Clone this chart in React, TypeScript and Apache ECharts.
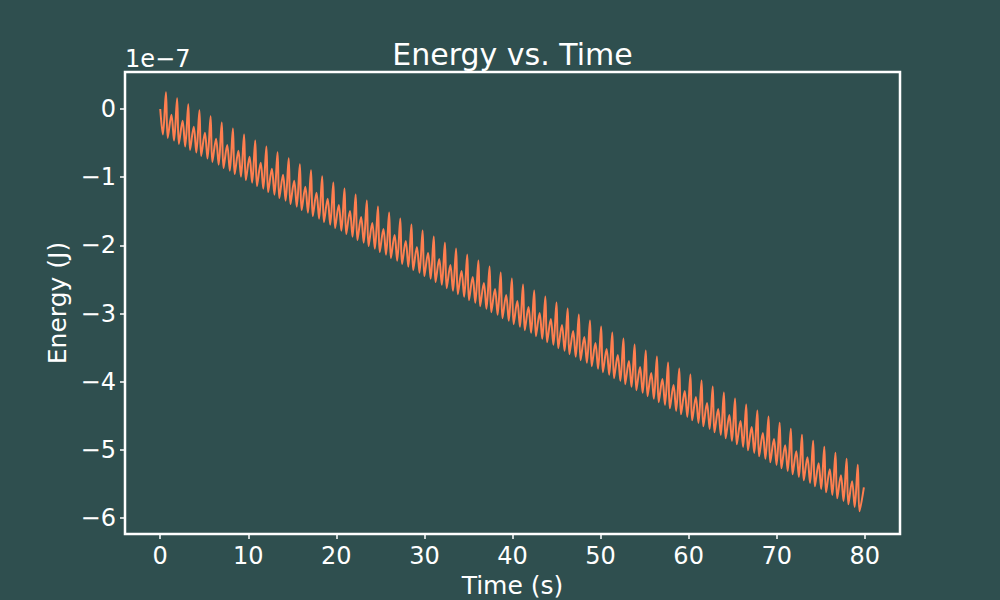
import React, { useEffect, useRef } from "react";
import * as echarts from "echarts";

// Time in seconds
const time: number[] = [
  0,
  0.300, 0.650, 0.850, 1.270,
  1.567, 1.917, 2.117, 2.537,
  2.834, 3.184, 3.384, 3.804,
  4.101, 4.451, 4.651, 5.071,
  5.368, 5.718, 5.918, 6.338,
  6.635, 6.985, 7.185, 7.605,
  7.902, 8.252, 8.452, 8.872,
  9.169, 9.519, 9.719, 10.139,
  10.436, 10.786, 10.986, 11.406,
  11.703, 12.053, 12.253, 12.673,
  12.970, 13.320, 13.520, 13.940,
  14.237, 14.587, 14.787, 15.207,
  15.504, 15.854, 16.054, 16.474,
  16.771, 17.121, 17.321, 17.741,
  18.038, 18.388, 18.588, 19.008,
  19.305, 19.655, 19.855, 20.275,
  20.572, 20.922, 21.122, 21.542,
  21.839, 22.189, 22.389, 22.809,
  23.106, 23.456, 23.656, 24.076,
  24.373, 24.723, 24.923, 25.343,
  25.640, 25.990, 26.190, 26.610,
  26.907, 27.257, 27.457, 27.877,
  28.174, 28.524, 28.724, 29.144,
  29.441, 29.791, 29.991, 30.411,
  30.708, 31.058, 31.258, 31.678,
  31.975, 32.325, 32.525, 32.945,
  33.242, 33.592, 33.792, 34.212,
  34.509, 34.859, 35.059, 35.479,
  35.776, 36.126, 36.326, 36.746,
  37.043, 37.393, 37.593, 38.013,
  38.310, 38.660, 38.860, 39.280,
  39.577, 39.927, 40.127, 40.547,
  40.844, 41.194, 41.394, 41.814,
  42.111, 42.461, 42.661, 43.081,
  43.378, 43.728, 43.928, 44.348,
  44.645, 44.995, 45.195, 45.615,
  45.912, 46.262, 46.462, 46.882,
  47.179, 47.529, 47.729, 48.149,
  48.446, 48.796, 48.996, 49.416,
  49.713, 50.063, 50.263, 50.683,
  50.980, 51.330, 51.530, 51.950,
  52.247, 52.597, 52.797, 53.217,
  53.514, 53.864, 54.064, 54.484,
  54.781, 55.131, 55.331, 55.751,
  56.048, 56.398, 56.598, 57.018,
  57.315, 57.665, 57.865, 58.285,
  58.582, 58.932, 59.132, 59.552,
  59.849, 60.199, 60.399, 60.819,
  61.116, 61.466, 61.666, 62.086,
  62.383, 62.733, 62.933, 63.353,
  63.650, 64.000, 64.200, 64.620,
  64.917, 65.267, 65.467, 65.887,
  66.184, 66.534, 66.734, 67.154,
  67.451, 67.801, 68.001, 68.421,
  68.718, 69.068, 69.268, 69.688,
  69.985, 70.335, 70.535, 70.955,
  71.252, 71.602, 71.802, 72.222,
  72.519, 72.869, 73.069, 73.489,
  73.786, 74.136, 74.336, 74.756,
  75.053, 75.403, 75.603, 76.023,
  76.320, 76.670, 76.870, 77.290,
  77.587, 77.937, 78.137, 78.557,
  78.854, 79.204, 79.404, 79.900,
];

// Energy in units of 1e-7 J (matches the axis offset label)
const energy: number[] = [
  0,
  -0.375, 0.245, -0.425, -0.085,
  -0.463, 0.157, -0.513, -0.173,
  -0.551, 0.069, -0.601, -0.261,
  -0.639, -0.019, -0.689, -0.349,
  -0.727, -0.107, -0.777, -0.437,
  -0.816, -0.196, -0.866, -0.526,
  -0.904, -0.284, -0.954, -0.614,
  -0.992, -0.372, -1.042, -0.702,
  -1.080, -0.460, -1.130, -0.790,
  -1.168, -0.548, -1.218, -0.878,
  -1.256, -0.636, -1.306, -0.966,
  -1.344, -0.724, -1.394, -1.054,
  -1.432, -0.812, -1.482, -1.142,
  -1.520, -0.900, -1.570, -1.230,
  -1.608, -0.988, -1.658, -1.318,
  -1.697, -1.077, -1.747, -1.407,
  -1.785, -1.165, -1.835, -1.495,
  -1.873, -1.253, -1.923, -1.583,
  -1.961, -1.341, -2.011, -1.671,
  -2.049, -1.429, -2.099, -1.759,
  -2.137, -1.517, -2.187, -1.847,
  -2.225, -1.605, -2.275, -1.935,
  -2.313, -1.693, -2.363, -2.023,
  -2.401, -1.781, -2.451, -2.111,
  -2.489, -1.869, -2.539, -2.199,
  -2.578, -1.958, -2.628, -2.288,
  -2.666, -2.046, -2.716, -2.376,
  -2.754, -2.134, -2.804, -2.464,
  -2.842, -2.222, -2.892, -2.552,
  -2.930, -2.310, -2.980, -2.640,
  -3.018, -2.398, -3.068, -2.728,
  -3.106, -2.486, -3.156, -2.816,
  -3.194, -2.574, -3.244, -2.904,
  -3.282, -2.662, -3.332, -2.992,
  -3.370, -2.750, -3.420, -3.080,
  -3.459, -2.839, -3.509, -3.169,
  -3.547, -2.927, -3.597, -3.257,
  -3.635, -3.015, -3.685, -3.345,
  -3.723, -3.103, -3.773, -3.433,
  -3.811, -3.191, -3.861, -3.521,
  -3.899, -3.279, -3.949, -3.609,
  -3.987, -3.367, -4.037, -3.697,
  -4.075, -3.455, -4.125, -3.785,
  -4.163, -3.543, -4.213, -3.873,
  -4.251, -3.631, -4.301, -3.961,
  -4.340, -3.720, -4.390, -4.050,
  -4.428, -3.808, -4.478, -4.138,
  -4.516, -3.896, -4.566, -4.226,
  -4.604, -3.984, -4.654, -4.314,
  -4.692, -4.072, -4.742, -4.402,
  -4.780, -4.160, -4.830, -4.490,
  -4.868, -4.248, -4.918, -4.578,
  -4.956, -4.336, -5.006, -4.666,
  -5.044, -4.424, -5.094, -4.754,
  -5.132, -4.512, -5.182, -4.842,
  -5.221, -4.601, -5.271, -4.931,
  -5.309, -4.689, -5.359, -5.019,
  -5.397, -4.777, -5.447, -5.107,
  -5.485, -4.865, -5.535, -5.195,
  -5.573, -4.953, -5.623, -5.283,
  -5.661, -5.041, -5.711, -5.371,
  -5.749, -5.129, -5.799, -5.459,
  -5.837, -5.217, -5.900, -5.550,
];

const xTicks = [0, 10, 20, 30, 40, 50, 60, 70, 80];
const yTicks = [0, -1, -2, -3, -4, -5, -6];
const titleText = "Energy vs. Time";
const xLabel = "Time (s)";
const yLabel = "Energy (J)";
const offsetLabel = "1e\u22127";

const FONT = "DejaVu Sans";
const WHITE = "#ffffff";

const fmt = (v: number) => (v < 0 ? "\u2212" + Math.abs(v) : String(v));

export default function App() {
  const ref = useRef<HTMLDivElement>(null);
  useEffect(() => {
    if (!ref.current) return;
    const chart = echarts.init(ref.current, null, { renderer: "svg" });
    const points = time.map((t, i) => [t, energy[i]]);
    chart.setOption({
      animation: false,
      backgroundColor: "#2f4f4f",
      textStyle: { fontFamily: FONT },
      grid: {
        left: 125,
        right: 100,
        top: 72,
        bottom: 66,
        show: true,
        borderColor: WHITE,
        borderWidth: 2.5,
        backgroundColor: "transparent",
        containLabel: false,
        outerBoundsMode: "none",
      },
      xAxis: {
        type: "value",
        min: -4,
        max: 84,
        name: xLabel,
        nameLocation: "middle",
        nameGap: 36,
        nameTextStyle: { color: WHITE, fontSize: 25, fontFamily: FONT },
        axisLine: { show: false, onZero: false },
        axisTick: {
          show: true,
          inside: false,
          length: 5,
          lineStyle: { color: WHITE, width: 1.5 },
          customValues: xTicks,
        },
        axisLabel: {
          color: WHITE,
          fontSize: 24,
          fontFamily: FONT,
          margin: 10,
          customValues: xTicks,
          formatter: fmt,
        },
        splitLine: { show: false },
      },
      yAxis: {
        type: "value",
        min: -6.234,
        max: 0.543,
        name: yLabel,
        nameLocation: "middle",
        nameGap: 53,
        nameTextStyle: { color: WHITE, fontSize: 25, fontFamily: FONT },
        axisLine: { show: false, onZero: false },
        axisTick: {
          show: true,
          inside: false,
          length: 5,
          lineStyle: { color: WHITE, width: 1.5 },
          customValues: yTicks,
        },
        axisLabel: {
          color: WHITE,
          fontSize: 24,
          fontFamily: FONT,
          margin: 9,
          customValues: yTicks,
          formatter: fmt,
        },
        splitLine: { show: false },
      },
      graphic: [
        {
          type: "text",
          x: 512.5,
          y: 54,
          style: {
            text: titleText,
            fill: WHITE,
            font: `30px "${FONT}"`,
            textAlign: "center",
            textVerticalAlign: "middle",
          },
        },
        {
          type: "text",
          x: 125,
          y: 59,
          style: {
            text: offsetLabel,
            fill: WHITE,
            font: `24px "${FONT}"`,
            textAlign: "left",
            textVerticalAlign: "middle",
          },
        },
      ],
      series: [
        {
          type: "line",
          data: points,
          showSymbol: false,
          smooth: 0.35,
          clip: true,
          lineStyle: { color: "#ff7f50", width: 2 },
        },
      ],
    });
    return () => chart.dispose();
  }, []);
  return (
    <div
      ref={ref}
      style={{ position: "fixed", left: 0, top: 0, width: 1000, height: 600 }}
    />
  );
}
